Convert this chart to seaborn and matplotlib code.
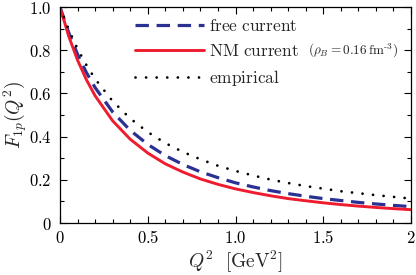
import matplotlib
matplotlib.use("Agg")
import matplotlib.pyplot as plt
from matplotlib.ticker import MultipleLocator, FixedLocator, FixedFormatter
import seaborn as sns
import pandas as pd

# Q^2 grid (GeV^2)
q2 = [0.0, 0.05, 0.1, 0.15, 0.2, 0.3, 0.4, 0.5, 0.6, 0.7, 0.8, 0.9, 1.0,
      1.1, 1.2, 1.3, 1.4, 1.5, 1.6, 1.7, 1.8, 1.9, 2.0]
# values
free_current = [1.0, 0.880, 0.781, 0.697, 0.627, 0.514, 0.429, 0.364, 0.312,
                0.271, 0.237, 0.210, 0.186, 0.167, 0.150, 0.136, 0.124, 0.113,
                0.104, 0.0954, 0.0881, 0.0816, 0.0758]
nm_current = [1.0, 0.864, 0.754, 0.664, 0.589, 0.473, 0.388, 0.324, 0.274,
              0.236, 0.204, 0.179, 0.158, 0.141, 0.126, 0.113, 0.103, 0.0934,
              0.0853, 0.0782, 0.0720, 0.0665, 0.0616]
empirical = [1.0, 0.895, 0.806, 0.732, 0.667, 0.564, 0.484, 0.421, 0.370,
             0.329, 0.295, 0.265, 0.241, 0.220, 0.201, 0.185, 0.171, 0.159,
             0.147, 0.138, 0.129, 0.121, 0.113]

labels = ["free current", "NM current", "empirical"]
x_ticks = [0, 0.5, 1.0, 1.5, 2.0]
x_ticklabels = ["0", "0.5", "1.0", "1.5", "2"]
y_ticks = [0, 0.2, 0.4, 0.6, 0.8, 1.0]
y_ticklabels = ["0", "0.2", "0.4", "0.6", "0.8", "1.0"]

sns.set_style("ticks")
plt.rcParams["font.family"] = ["DejaVu Serif"]
plt.rcParams["mathtext.fontset"] = "cm"

fig = plt.figure(figsize=(4.16, 2.75), dpi=100)
ax = fig.add_axes([60 / 416, 1 - 223 / 275, 351 / 416, 216 / 275])

df = pd.DataFrame({"q2": q2 * 3,
                   "F": free_current + nm_current + empirical,
                   "series": [labels[0]] * len(q2) + [labels[1]] * len(q2) + [labels[2]] * len(q2)})

blue = "#2a3193"
red = "#ee1c2e"
sns.lineplot(data=df[df.series == labels[0]], x="q2", y="F", ax=ax, color=blue,
             lw=2.3, label=labels[0])
sns.lineplot(data=df[df.series == labels[1]], x="q2", y="F", ax=ax, color=red,
             lw=2.1, label=labels[1])
sns.lineplot(data=df[df.series == labels[2]], x="q2", y="F", ax=ax, color="black",
             lw=2.0, label=labels[2])
lines = ax.get_lines()
lines[0].set_dashes((4.2, 2.4))
lines[2].set_dashes((0.01, 3.8))
lines[2].set_dash_capstyle("round")

ax.set_xlim(0, 2)
ax.set_ylim(0, 1)
ax.xaxis.set_major_locator(FixedLocator(x_ticks))
ax.xaxis.set_major_formatter(FixedFormatter(["$%s$" % t for t in x_ticklabels]))
ax.yaxis.set_major_locator(FixedLocator(y_ticks))
ax.yaxis.set_major_formatter(FixedFormatter(["$%s$" % t for t in y_ticklabels]))
ax.xaxis.set_minor_locator(MultipleLocator(0.1))
ax.yaxis.set_minor_locator(MultipleLocator(0.1))
ax.tick_params(which="both", direction="in", top=True, right=True, width=0.8,
               labelsize=12, colors="black")
ax.tick_params(which="major", length=5)
ax.tick_params(axis="x", which="major", pad=5)
ax.tick_params(axis="y", which="major", pad=6)
ax.tick_params(which="minor", length=3)
for s in ax.spines.values():
    s.set_visible(True)
    s.set_linewidth(0.9)
    s.set_color("black")

ax.set_xlabel("")
ax.set_ylabel("")
fig.text(236 / 416, 1 - 262 / 275, r"$Q^2\ \ [\mathrm{GeV}^2]$", fontsize=14,
         ha="center", va="center")
fig.text(15 / 416, 1 - 115 / 275, r"$F_{1p}(Q^2)$", fontsize=14,
         ha="center", va="center", rotation=90)

handles = ax.get_lines()
leg = ax.legend(handles, [r"$\mathrm{free\ current}$", r"$\mathrm{NM\ current}$",
                          r"$\mathrm{empirical}$"],
                loc="upper left", bbox_to_anchor=((135 - 60) / 351, (223 - 18) / 216),
                frameon=False, fontsize=12.5, handlelength=4.0, handletextpad=0.25,
                labelspacing=0.45, borderaxespad=0, borderpad=0)

fig.canvas.draw()
t = leg.get_texts()[1]
bb = t.get_window_extent()
inv = ax.transAxes.inverted()
x1, yc = inv.transform((bb.x1 + 9, (bb.y0 + bb.y1) / 2))
ax.text(x1, yc, r"$(\rho_B = 0.16\,\mathrm{fm}^{\text{-}3})$", transform=ax.transAxes,
        fontsize=9.5, va="center", ha="left")

fig.savefig("out.png", dpi=100)
